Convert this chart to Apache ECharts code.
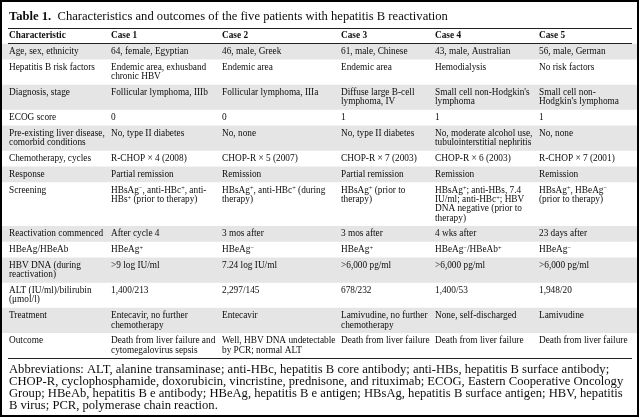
<!DOCTYPE html>
<html><head><meta charset="utf-8">
<script src="https://cdn.jsdelivr.net/npm/echarts@6/dist/echarts.min.js"></script>
<style>html,body{margin:0;padding:0;background:#fff}#c{width:640px;height:418px}</style>
</head><body><div id="c"></div>
<script>
// ---------- DATA ----------
const tableLabel = 'Table 1.';
const tableTitle = 'Characteristics and outcomes of the five patients with hepatitis B reactivation';
const headers = ['Characteristic', 'Case 1', 'Case 2', 'Case 3', 'Case 4', 'Case 5'];
const characteristics = [
  'Age, sex, ethnicity',
  'Hepatitis B risk factors',
  'Diagnosis, stage',
  'ECOG score',
  'Pre-existing liver disease,\ncomorbid conditions',
  'Chemotherapy, cycles',
  'Response',
  'Screening',
  'Reactivation commenced',
  'HBeAg/HBeAb',
  'HBV DNA (during\nreactivation)',
  'ALT (IU/ml)/bilirubin\n(μmol/l)',
  'Treatment',
  'Outcome'
];
const case1 = [
  '64, female, Egyptian',
  'Endemic area, exhusband\nchronic HBV',
  'Follicular lymphoma, IIIb',
  '0',
  'No, type II diabetes',
  'R-CHOP × 4 (2008)',
  'Partial remission',
  'HBsAg⁻, anti-HBc⁺, anti-\nHBs⁺ (prior to therapy)',
  'After cycle 4',
  'HBeAg⁺',
  '>9 log IU/ml',
  '1,400/213',
  'Entecavir, no further\nchemotherapy',
  'Death from liver failure and\ncytomegalovirus sepsis'
];
const case2 = [
  '46, male, Greek',
  'Endemic area',
  'Follicular lymphoma, IIIa',
  '0',
  'No, none',
  'CHOP-R × 5 (2007)',
  'Remission',
  'HBsAg⁺, anti-HBc⁺ (during\ntherapy)',
  '3 mos after',
  'HBeAg⁻',
  '7.24 log IU/ml',
  '2,297/145',
  'Entecavir',
  'Well, HBV DNA undetectable\nby PCR; normal ALT'
];
const case3 = [
  '61, male, Chinese',
  'Endemic area',
  'Diffuse large B-cell\nlymphoma, IV',
  '1',
  'No, type II diabetes',
  'CHOP-R × 7 (2003)',
  'Partial remission',
  'HBsAg⁺ (prior to\ntherapy)',
  '3 mos after',
  'HBeAg⁺',
  '>6,000 pg/ml',
  '678/232',
  'Lamivudine, no further\nchemotherapy',
  'Death from liver failure'
];
const case4 = [
  '43, male, Australian',
  'Hemodialysis',
  'Small cell non-Hodgkin\'s\nlymphoma',
  '1',
  'No, moderate alcohol use,\ntubulointerstitial nephritis',
  'CHOP-R × 6 (2003)',
  'Remission',
  'HBsAg⁺; anti-HBs, 7.4\nIU/ml; anti-HBc⁺; HBV\nDNA negative (prior to\ntherapy)',
  '4 wks after',
  'HBeAg⁻/HBeAb⁺',
  '>6,000 pg/ml',
  '1,400/53',
  'None, self-discharged',
  'Death from liver failure'
];
const case5 = [
  '56, male, German',
  'No risk factors',
  'Small cell non-\nHodgkin\'s lymphoma',
  '1',
  'No, none',
  'R-CHOP × 7 (2001)',
  'Remission',
  'HBsAg⁺, HBeAg⁻\n(prior to therapy)',
  '23 days after',
  'HBeAg⁻',
  '>6,000 pg/ml',
  '1,948/20',
  'Lamivudine',
  'Death from liver failure'
];
const footnoteLines = [
  'Abbreviations: ALT, alanine transaminase; anti-HBc, hepatitis B core antibody; anti-HBs, hepatitis B surface antibody;',
  'CHOP-R, cyclophosphamide, doxorubicin, vincristine, prednisone, and rituximab; ECOG, Eastern Cooperative Oncology',
  'Group; HBeAb, hepatitis B e antibody; HBeAg, hepatitis B e antigen; HBsAg, hepatitis B surface antigen; HBV, hepatitis',
  'B virus; PCR, polymerase chain reaction.'
];

// ---------- LAYOUT / STYLE ----------
const FONT = '"Liberation Serif","Times New Roman",serif';
const BODY_SIZE = 9.3;
const LINE = 9.3;       // px per text line
const PAD = 6.5;        // px vertical padding per row
const PAD_TOP = 3.4;
const colX = [9, 111, 222, 341, 435, 539];
const ruleX = [8, 632];
const bandX = [2, 637];
const SHADE = '#e5e5e5';
const INK = '#0d0d0d';
const TABLE_TOP = 28;

const columns = [characteristics, case1, case2, case3, case4, case5];
const padU = PAD / LINE;
const nLines = s => s.split('\n').length;

// rows: header + body; cumulative positions in "line units"
const rowDefs = [];
let acc = 0;
{
  const h = 1 + padU;
  rowDefs.push({ y0: acc, y1: acc + h, cells: headers, header: true, idx: -1 });
  acc += h;
}
characteristics.forEach((c, i) => {
  const cells = columns.map(col => col[i]);
  const lines = Math.max.apply(null, cells.map(nLines));
  const h = lines + padU;
  rowDefs.push({ y0: acc, y1: acc + h, cells, header: false, idx: i });
  acc += h;
});
const totalU = acc;

function richify(s) {
  return s.replace(/⁺/g, '{s|+}').replace(/⁻/g, '{s|−}');
}

const seriesData = rowDefs.map((r, k) => [r.y0, r.y1, k]);

const option = {
  animation: false,
  backgroundColor: '#fff',
  title: [
    {
      text: '{b|' + tableLabel + '}  ' + tableTitle,
      left: 9, top: 10, padding: 0,
      textStyle: {
        fontFamily: FONT, fontSize: 12.6, fontWeight: 'normal', color: INK, lineHeight: 14,
        rich: { b: { fontFamily: FONT, fontSize: 12.6, fontWeight: 'bold', color: INK, lineHeight: 14 } }
      }
    },
    {
      text: footnoteLines.join('\n'),
      left: 9, top: 364, padding: 0,
      textStyle: { fontFamily: FONT, fontSize: 12.6, fontWeight: 'normal', color: INK, lineHeight: 12 }
    }
  ],
  grid: { left: 0, width: 640, top: TABLE_TOP, height: totalU * LINE, containLabel: false },
  xAxis: { type: 'value', min: 0, max: 640, show: false },
  yAxis: { type: 'value', min: 0, max: totalU, inverse: true, show: false },
  graphic: [
    { type: 'rect', shape: { x: 1, y: 1, width: 637, height: 415 },
      style: { fill: 'none', stroke: '#000', lineWidth: 2 }, z: 100 }
  ],
  series: [{
    type: 'custom',
    coordinateSystem: 'cartesian2d',
    data: seriesData,
    encode: { y: [0, 1] },
    clip: false,
    renderItem: function (params, api) {
      const k = api.value(2);
      const r = rowDefs[k];
      const top = api.coord([0, api.value(0)])[1];
      const bot = api.coord([0, api.value(1)])[1];
      const children = [];
      if (!r.header && r.idx % 2 === 0) {
        const bx0 = api.coord([bandX[0], 0])[0], bx1 = api.coord([bandX[1], 0])[0];
        children.push({
          type: 'rect',
          shape: { x: bx0, y: top, width: bx1 - bx0, height: bot - top },
          style: { fill: SHADE }
        });
      }
      r.cells.forEach((txt, c) => {
        children.push({
          type: 'text',
          x: api.coord([colX[c], 0])[0],
          y: top + PAD_TOP,
          style: {
            text: richify(txt),
            fontFamily: FONT,
            fontSize: BODY_SIZE,
            fontWeight: r.header ? 'bold' : 'normal',
            lineHeight: LINE,
            fill: INK,
            align: 'left',
            verticalAlign: 'top',
            rich: {
              s: { fontFamily: FONT, fontSize: 6.3, lineHeight: 6, verticalAlign: 'top', fill: INK }
            }
          }
        });
      });
      const x0 = api.coord([ruleX[0], 0])[0], x1 = api.coord([ruleX[1], 0])[0];
      if (r.header) {
        children.push({ type: 'line', shape: { x1: x0, y1: Math.round(top) + 0.5, x2: x1, y2: Math.round(top) + 0.5 }, style: { stroke: '#222', lineWidth: 1 } });
        children.push({ type: 'line', shape: { x1: x0, y1: Math.round(bot) - 0.5, x2: x1, y2: Math.round(bot) - 0.5 }, style: { stroke: '#222', lineWidth: 1 }, z2: 10 });
      }
      if (k === rowDefs.length - 1) {
        children.push({ type: 'line', shape: { x1: x0, y1: Math.round(bot) + 0.5, x2: x1, y2: Math.round(bot) + 0.5 }, style: { stroke: '#222', lineWidth: 1 } });
      }
      return { type: 'group', children };
    }
  }]
};

const chart = echarts.init(document.getElementById('c'), null, { renderer: 'canvas' });
chart.setOption(option);
</script>
</body></html>
